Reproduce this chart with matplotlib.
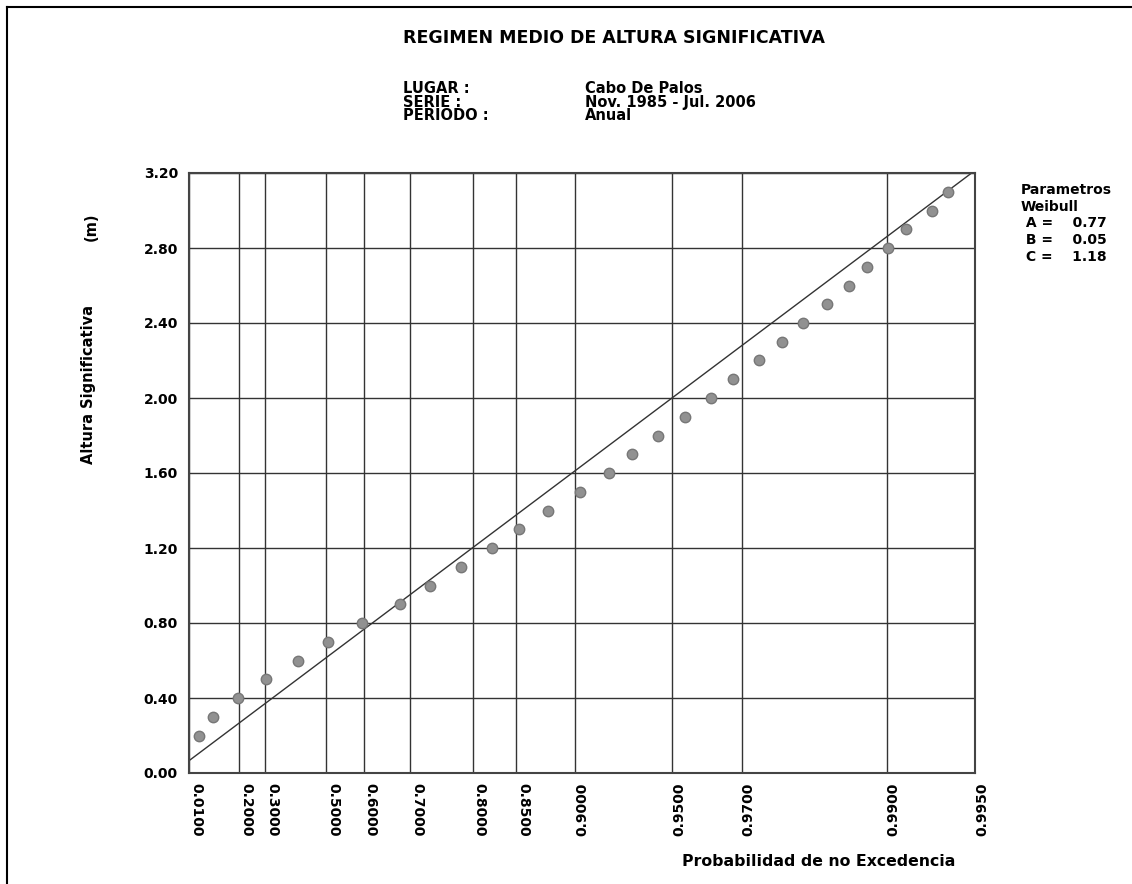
import numpy as np
import matplotlib.pyplot as plt
from matplotlib.lines import Line2D

# Weibull parameters (from the chart)
A, B, C = 0.77, 0.05, 1.18

# x axis: probability of non exceedance
prob_ticks = [0.01, 0.2, 0.3, 0.5, 0.6, 0.7, 0.8, 0.85, 0.9, 0.95, 0.97, 0.99, 0.995]
prob_labels = ['0.0100', '0.2000', '0.3000', '0.5000', '0.6000', '0.7000', '0.8000',
               '0.8500', '0.9000', '0.9500', '0.9700', '0.9900', '0.9950']

# y axis: significant wave height (m)
height_ticks = [0.0, 0.4, 0.8, 1.2, 1.6, 2.0, 2.4, 2.8, 3.2]
height_labels = ['0.00', '0.40', '0.80', '1.20', '1.60', '2.00', '2.40', '2.80', '3.20']

# observed points (Hs, empirical probability)
hs_obs = [0.2, 0.3, 0.4, 0.5, 0.6, 0.7, 0.8, 0.9, 1.0, 1.1, 1.2, 1.3, 1.4, 1.5, 1.6,
          1.7, 1.8, 1.9, 2.0, 2.1, 2.2, 2.3, 2.4, 2.5, 2.6, 2.7, 2.8, 2.9, 3.0, 3.1]
prob_obs = [0.0452, 0.0986, 0.1947, 0.3012, 0.4144, 0.5065, 0.5952, 0.6802, 0.7356, 0.7841,
            0.8238, 0.8534, 0.8795, 0.9034, 0.9211, 0.9331, 0.9444, 0.9544, 0.9622, 0.9680,
            0.9736, 0.9778, 0.9811, 0.9842, 0.9866, 0.9884, 0.9901, 0.9914, 0.9930, 0.9938]

header_keys = ['LUGAR :', 'SERIE :', 'PERIODO :']
header_values = ['Cabo De Palos', 'Nov. 1985 - Jul. 2006', 'Anual']

W, H = 1132, 884


def fwd(p):
    p = np.clip(np.asarray(p, dtype=float), 1e-9, 1 - 1e-9)
    return (-np.log(1 - p)) ** (1 / C)


def inv(x):
    x = np.clip(np.asarray(x, dtype=float), 0, None)
    return 1 - np.exp(-x ** C)


def fx(px):
    return px / W


def fy(py):
    return 1 - py / H


plt.rcParams['font.family'] = ['DejaVu Sans']

fig = plt.figure(figsize=(W / 100, H / 100), dpi=100)
fig.patch.set_facecolor('white')

# outer frame (left and top edges visible)
fig.add_artist(Line2D([fx(7), fx(7)], [0, fy(7)], color='black', lw=1.5))
fig.add_artist(Line2D([fx(7), 1], [fy(7), fy(7)], color='black', lw=1.5))

ax = fig.add_axes([fx(189), fy(773), 786 / W, 600 / H])
ax.set_xscale('function', functions=(fwd, inv))
ax.set_xlim(0.01, 0.995)
ax.set_ylim(0, 3.2)

ax.set_xticks(prob_ticks, prob_labels)
ax.set_yticks(height_ticks, height_labels)
ax.minorticks_off()
ax.tick_params(length=0)
ax.tick_params(axis='x', pad=7)
ax.tick_params(axis='y', pad=8)
for lbl, p in zip(ax.get_xticklabels(), prob_ticks):
    lbl.set_rotation(-90 if p < 0.9 else 90)
    lbl.set_ha('left')
    lbl.set_va('top')
    lbl.set_fontsize(10)
    lbl.set_fontweight('bold')
for lbl in ax.get_yticklabels():
    lbl.set_fontsize(10)
    lbl.set_fontweight('bold')

ax.grid(True, color='#333333', lw=1)
ax.set_axisbelow(True)
for s in ax.spines.values():
    s.set_color('#444444')
    s.set_linewidth(1.5)

# fitted Weibull line
p_fit = np.array([0.01, 0.995])
ax.plot(p_fit, B + A * fwd(p_fit), color='#333333', lw=1)

# observed points
ax.plot(prob_obs, hs_obs, 'o', ms=7.5, mfc='#919191', mec='#777777', mew=1)

# header texts
fig.text(fx(403), fy(38), 'REGIMEN MEDIO DE ALTURA SIGNIFICATIVA', fontsize=12.5,
         fontweight='bold', va='center', ha='left')
fig.text(fx(403), fy(81), '\n'.join(header_keys), fontsize=10.5, fontweight='bold',
         va='top', ha='left', linespacing=0.88)
fig.text(fx(585), fy(81), '\n'.join(header_values), fontsize=10.5, fontweight='bold',
         va='top', ha='left', linespacing=0.88)

# Weibull parameters box
params = ['Parametros', 'Weibull',
          ' A =    %.2f' % A, ' B =    %.2f' % B, ' C =    %.2f' % C]
fig.text(fx(1021), fy(183), '\n'.join(params), fontsize=10, fontweight='bold',
         va='top', ha='left', linespacing=1.25)

# axis labels
fig.text(fx(89), fy(385), 'Altura Significativa', rotation=90, fontsize=10.5,
         fontweight='bold', ha='center', va='center')
fig.text(fx(91), fy(227), '(m)', rotation=90, fontsize=10.5, fontweight='bold',
         ha='center', va='center')
fig.text(fx(682), fy(862), 'Probabilidad de no Excedencia', fontsize=11.3,
         fontweight='bold', ha='left', va='center')

fig.savefig('out.png', dpi=100)
